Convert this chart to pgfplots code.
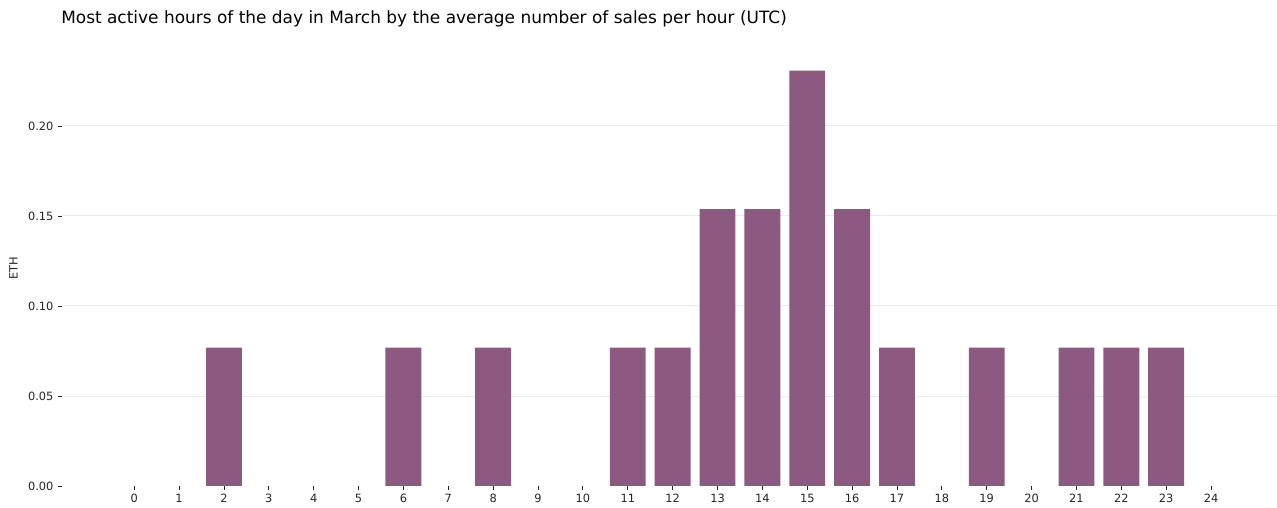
\documentclass[border=0pt]{standalone}
\usepackage{fontspec}
\setmainfont{DejaVu Sans}
\usepackage{pgfplots}
\pgfplotsset{compat=1.18}
\definecolor{barc}{HTML}{8C5A80}
\definecolor{gridc}{HTML}{EBEBEB}
\definecolor{txt}{HTML}{262626}
\begin{document}
\begin{tikzpicture}
\begin{axis}[
  at={(0,0)}, anchor=south west,
  scale only axis,
  width=874.8pt, height=313.92pt,
  xmin=-1.61, xmax=25.47,
  ymin=0, ymax=0.2422,
  ybar, bar width=0.8,
  separate axis lines,
  axis line style={draw=none},
  xtick={0,...,24},
  ytick={0.05,0.1,0.15,0.2},
  extra y ticks={0},
  extra y tick style={grid=none},
  xtick pos=lower, ytick pos=left,
  tick align=outside,
  major tick length=2.6pt,
  tick style={color=txt, line width=0.6pt},
  ymajorgrids,
  grid style={color=gridc, line width=0.7pt},
  /pgf/number format/assume math mode=true,
  yticklabel style={/pgf/number format/fixed, /pgf/number format/fixed zerofill, /pgf/number format/precision=2, font=\fontsize{8.2}{9}\selectfont, color=txt},
  xticklabel style={font=\fontsize{8.2}{9}\selectfont, color=txt},
  scaled y ticks=false,
]
\addplot[fill=barc, draw=none] coordinates {
(2,0.0769) (6,0.0769) (8,0.0769) (11,0.0769)
(12,0.0769) (13,0.1538) (14,0.1538) (15,0.2308) (16,0.1538) (17,0.0769) (19,0.0769)
(21,0.0769) (22,0.0769) (23,0.0769)
};
\end{axis}
\node[anchor=center, rotate=90, inner sep=0pt, font=\fontsize{8.2}{9}\selectfont, text=txt] at (-34.9pt,156.96pt) {ETH};
\node[anchor=west, inner sep=0pt, font=\fontsize{12.2}{14}\selectfont, text=black] at (-0.72pt,336.24pt) {Most active hours of the day in March by the average number of sales per hour (UTC)};
\pgfresetboundingbox
\path[use as bounding box] (-44.64pt,-15.84pt) rectangle (874.8pt,349.92pt);
\end{tikzpicture}
\end{document}
